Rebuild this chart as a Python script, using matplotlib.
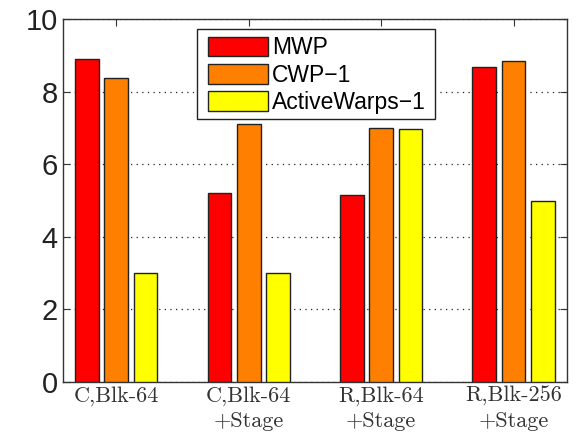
import numpy as np
import matplotlib
matplotlib.use("Agg")
import matplotlib.pyplot as plt
from matplotlib.patches import Rectangle

# data
groups = ["C,Blk-64", "C,Blk-64\n+Stage", "R,Blk-64\n+Stage", "R,Blk-256\n+Stage"]
series = ["MWP", "CWP\u22121", "ActiveWarps\u22121"]
mwp = [8.91, 5.22, 5.14, 8.67]
cwp = [8.38, 7.12, 7.01, 8.85]
active = [3.0, 3.0, 6.98, 5.0]
colors = ["#ff0000", "#ff8000", "#ffff00"]

fig = plt.figure(figsize=(5.77, 4.34), dpi=100)
ax = fig.add_axes([0.1097, 0.1198, 0.8724, 0.8364])

x = np.arange(1, len(groups) + 1)
step = 0.222
width = 0.178
for i, (name, vals) in enumerate(zip(series, [mwp, cwp, active])):
    ax.bar(x + (i - 1) * step, vals, width, color=colors[i], edgecolor="#222222",
           linewidth=1.0, label=name, zorder=3)

ax.set_xlim(0.6, 4.4)
ax.set_ylim(0, 10)
ax.set_yticks([0, 2, 4, 6, 8, 10])
ax.set_xticks(x)
ax.set_xticklabels(groups, fontfamily="cmr10", fontsize=16, color="#333333",
                   linespacing=1.32)
for lab in ax.get_yticklabels():
    lab.set_fontfamily("Liberation Sans")
    lab.set_fontsize(21)
    lab.set_color("#222222")

ax.yaxis.grid(True, linestyle=(0, (1, 3.5)), color="#222222", linewidth=0.9, zorder=0)
ax.set_axisbelow(True)
ax.tick_params(direction="in", length=5, width=0.8, top=True, right=True,
               color="#333333")
ax.tick_params(axis="x", pad=3)
ax.tick_params(axis="y", pad=4)
for s in ax.spines.values():
    s.set_color("#333333")
    s.set_linewidth(1.0)

# legend box drawn separately (MATLAB-like padding)
box = Rectangle((0.266, 0.7245), 0.4724, 0.2471, transform=ax.transAxes,
                facecolor="white", edgecolor="#222222", linewidth=1.0, zorder=4)
ax.add_patch(box)
leg = ax.legend(loc="upper left", bbox_to_anchor=(0.288, 0.952), borderaxespad=0,
                prop={"family": "Liberation Sans", "size": 16.5},
                handlelength=2.62, handleheight=0.95, labelspacing=0.18,
                handletextpad=0.17, borderpad=0, frameon=False)
leg.set_zorder(5)

fig.savefig("out.png", dpi=100)
